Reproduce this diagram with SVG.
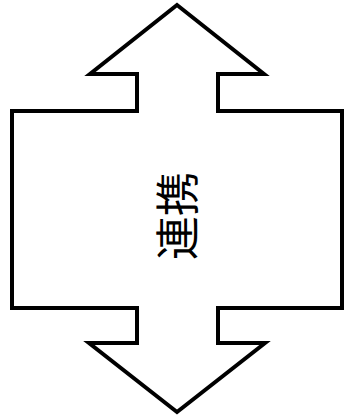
<svg xmlns="http://www.w3.org/2000/svg" width="350" height="418" viewBox="0 0 350 418">
<style>
.shape{fill:#fff;stroke:#000;stroke-width:4;stroke-linejoin:miter}
.lbl{font-family:"Noto Sans CJK JP","Noto Sans CJK SC",sans-serif;font-size:44px;fill:#000}
</style>
<rect width="350" height="418" fill="#fff"/>
<g id="connectors"></g>
<g id="node-renkei">
<polygon class="shape" points="177,5 264,74 218,74 218,111 342,111 342,308 218,308 218,343 265,343 177,412 89,343 137,343 137,308 12,308 12,111 137,111 137,74 90,74"/>
<text class="lbl" transform="translate(175,216) rotate(-90)" text-anchor="middle" dominant-baseline="central">連携</text>
</g>
</svg>
